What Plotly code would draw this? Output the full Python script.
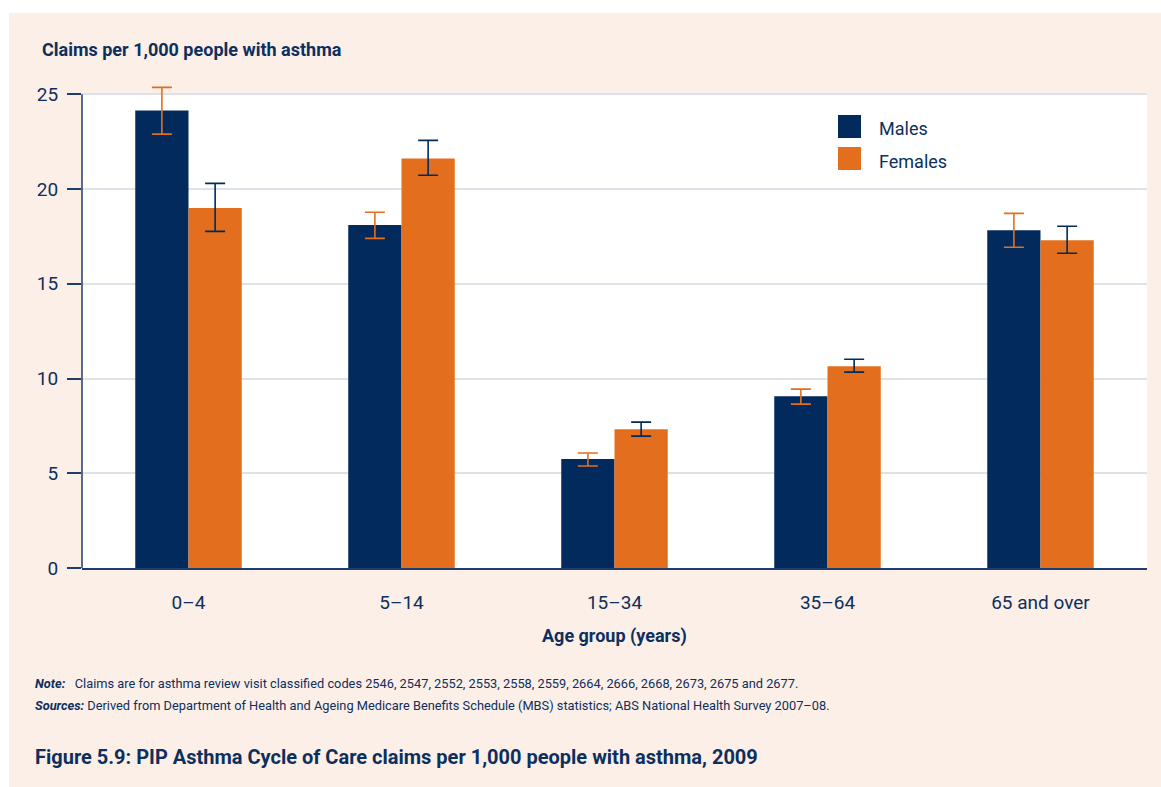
import plotly.graph_objects as go

categories = ["0–4", "5–14", "15–34", "35–64", "65 and over"]
males = [24.15, 18.1, 5.75, 9.07, 17.83]
males_low = [22.9, 17.4, 5.38, 8.65, 16.93]
males_high = [25.37, 18.78, 6.07, 9.44, 18.72]
females = [19.0, 21.62, 7.33, 10.65, 17.3]
females_low = [17.77, 20.73, 6.96, 10.34, 16.61]
females_high = [20.3, 22.57, 7.7, 11.02, 18.04]
series_names = ["Males", "Females"]
y_max = 25
y_top = 25.6

NAVY = "#022a5c"
ORANGE = "#e36f1e"
TEXT = "#0d2f5e"
AXIS = "#1e3d6b"
BEIGE = "#fbefe7"
FONT = "Roboto, Lato, sans-serif"

W, H = 1161, 787
UNIT = 474 / 25.0
L, R, B = 82, 14, 219
T = int(round(94 - (y_top - y_max) * UNIT))
PW, PH = W - L - R, H - T - B


def px_x(px):
    return (px - L) / PW


def px_y(py):
    return (H - B - py) / PH


fig = go.Figure()
fig.add_trace(go.Bar(
    x=categories, y=males, name=series_names[0], marker_color=NAVY,
    marker_line_width=0, showlegend=False, cliponaxis=False,
    error_y=dict(type="data", symmetric=False,
                 array=[h - v for h, v in zip(males_high, males)],
                 arrayminus=[v - l for v, l in zip(males, males_low)],
                 color=ORANGE, thickness=1.6, width=10),
))
fig.add_trace(go.Bar(
    x=categories, y=females, name=series_names[1], marker_color=ORANGE,
    marker_line_width=0, showlegend=False, cliponaxis=False,
    error_y=dict(type="data", symmetric=False,
                 array=[h - v for h, v in zip(females_high, females)],
                 arrayminus=[v - l for v, l in zip(females, females_low)],
                 color=NAVY, thickness=1.6, width=10),
))

shapes = [
    # white page strips outside beige panel
    dict(type="rect", xref="paper", yref="paper", x0=px_x(-10), x1=px_x(W + 10),
         y0=px_y(13), y1=px_y(-10), fillcolor="white", line_width=0, layer="below"),
    dict(type="rect", xref="paper", yref="paper", x0=px_x(-10), x1=px_x(9),
         y0=px_y(H + 10), y1=px_y(-10), fillcolor="white", line_width=0, layer="below"),
    # white plotting panel up to the top value
    dict(type="rect", xref="paper", yref="y", x0=0, x1=1, y0=0, y1=y_max,
         fillcolor="white", line_width=0, layer="below"),
    # y axis line up to top value
    dict(type="line", xref="paper", yref="y", x0=0, x1=0, y0=0, y1=y_max,
         line=dict(color=AXIS, width=1.5)),
    # legend squares
    dict(type="rect", xref="paper", yref="paper", x0=px_x(838), x1=px_x(861),
         y0=px_y(138), y1=px_y(115), fillcolor=NAVY, line_width=0),
    dict(type="rect", xref="paper", yref="paper", x0=px_x(838), x1=px_x(861),
         y0=px_y(170), y1=px_y(147), fillcolor=ORANGE, line_width=0),
]

annotations = [
    dict(text="<b>Claims per 1,000 people with asthma</b>", xref="paper", yref="paper",
         x=px_x(40), y=px_y(49), xanchor="left", yanchor="middle", showarrow=False,
         font=dict(size=18, color=TEXT, family=FONT)),
    dict(text=series_names[0], xref="paper", yref="paper", x=px_x(877), y=px_y(128),
         xanchor="left", yanchor="middle", showarrow=False,
         font=dict(size=18, color=TEXT, family=FONT)),
    dict(text=series_names[1], xref="paper", yref="paper", x=px_x(877), y=px_y(161),
         xanchor="left", yanchor="middle", showarrow=False,
         font=dict(size=18, color=TEXT, family=FONT)),
    dict(text="<b>Age group (years)</b>", xref="paper", yref="paper",
         x=px_x(614), y=px_y(636), xanchor="center", yanchor="middle", showarrow=False,
         font=dict(size=18, color=TEXT, family=FONT)),
    dict(text="<b><i>Note:</i></b>   Claims are for asthma review visit classified codes 2546, 2547, 2552, 2553, 2558, 2559, 2664, 2666, 2668, 2673, 2675 and 2677.",
         xref="paper", yref="paper",
         x=px_x(33), y=px_y(683), xanchor="left", yanchor="middle", showarrow=False,
         font=dict(size=12.8, color=TEXT, family=FONT)),
    dict(text="<b><i>Sources:</i></b> Derived from Department of Health and Ageing Medicare Benefits Schedule (MBS) statistics; ABS National Health Survey 2007–08.",
         xref="paper", yref="paper",
         x=px_x(33), y=px_y(706), xanchor="left", yanchor="middle", showarrow=False,
         font=dict(size=12.8, color=TEXT, family=FONT)),
    dict(text="<b>Figure 5.9: PIP Asthma Cycle of Care claims per 1,000 people with asthma, 2009</b>",
         xref="paper", yref="paper",
         x=px_x(33), y=px_y(757), xanchor="left", yanchor="middle", showarrow=False,
         font=dict(size=20, color=TEXT, family=FONT)),
]

fig.update_layout(
    width=W, height=H,
    margin=dict(l=L, r=R, t=T, b=B, pad=0),
    paper_bgcolor=BEIGE, plot_bgcolor=BEIGE,
    barmode="group", bargap=0.5, bargroupgap=0,
    font=dict(family=FONT, color=TEXT, size=19),
    shapes=shapes, annotations=annotations,
    showlegend=False,
    xaxis=dict(showgrid=False, showline=True, linecolor=AXIS, linewidth=1.5,
               ticks="", tickfont=dict(size=19, color=TEXT), ticklabelstandoff=16,
               zeroline=False),
    yaxis=dict(range=[0, y_top], tickvals=[0, 5, 10, 15, 20, 25], showgrid=True,
               gridcolor="#dde2e8", gridwidth=2, showline=False,
               ticks="outside", ticklen=14, tickwidth=1.5,
               tickcolor=AXIS, tickfont=dict(size=19, color=TEXT),
               ticklabelstandoff=5, zeroline=False),
)

fig.write_html("out.html", config={"displayModeBar": False},
               post_script="document.body.style.margin='0';document.body.style.overflow='hidden';")
